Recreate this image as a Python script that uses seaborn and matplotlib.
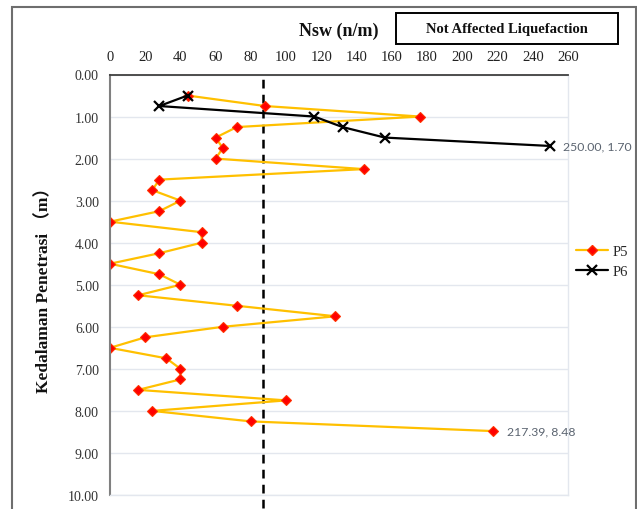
import matplotlib
matplotlib.use("Agg")
import matplotlib.pyplot as plt
from matplotlib.patches import Rectangle
from matplotlib.lines import Line2D
import seaborn as sns
import pandas as pd

# ---- data ----
p5_nsw = [44, 88, 176, 72, 60, 64, 60, 144, 28, 24, 40, 28, 0, 52, 52, 28, 0, 28,
          40, 16, 72, 128, 64, 20, 0, 32, 40, 40, 16, 100, 24, 80, 217.39]
p5_depth = [0.50, 0.75, 1.00, 1.25, 1.50, 1.75, 2.00, 2.25, 2.50, 2.75, 3.00, 3.25,
            3.50, 3.75, 4.00, 4.25, 4.50, 4.75, 5.00, 5.25, 5.50, 5.75, 6.00, 6.25,
            6.50, 6.75, 7.00, 7.25, 7.50, 7.75, 8.00, 8.25, 8.48]
p6_nsw = [44, 28, 116, 132, 156, 250.00]
p6_depth = [0.50, 0.75, 1.00, 1.25, 1.50, 1.70]
threshold_nsw = 86.7
x_ticks = list(range(0, 261, 20))
y_ticks = list(range(0, 11))
series_names = ["P5", "P6"]

sns.set_theme(style="white")
plt.rcParams["font.family"] = ["Liberation Serif", "Noto Sans CJK SC", "DejaVu Sans"]

fig = plt.figure(figsize=(6.37, 5.10), dpi=100)
ax = fig.add_axes([110 / 637, 1 - 496 / 510, (568 - 110) / 637, (496 - 75.5) / 510])

df5 = pd.DataFrame({"Nsw": p5_nsw, "Depth": p5_depth})
df6 = pd.DataFrame({"Nsw": p6_nsw, "Depth": p6_depth})

sns.lineplot(data=df5, x="Nsw", y="Depth", sort=False, estimator=None, ax=ax,
             color="#FFC000", lw=1.6, marker="D", markersize=5.5,
             markerfacecolor="#FF0000", markeredgecolor="#FF3000", markeredgewidth=0.8)
sns.lineplot(data=df6, x="Nsw", y="Depth", sort=False, estimator=None, ax=ax,
             color="black", lw=1.6, marker="x", markersize=7,
             markeredgecolor="black", markeredgewidth=1.6)

ax.axvline(threshold_nsw, color="black", lw=1.8, ls=(0, (3.5, 2.5)), zorder=1,
           ymin=-0.03, ymax=1, clip_on=False)

ax.set_xlim(0, 260)
ax.set_ylim(10, 0)
ax.set_xticks(x_ticks)
ax.set_yticks(y_ticks)
ax.set_yticklabels([f"{v:.2f}" for v in y_ticks])
ax.xaxis.tick_top()
ax.tick_params(axis="x", length=0, pad=8, labelsize=10.5, labelcolor="#222222")
ax.tick_params(axis="y", length=0, pad=8, labelsize=10, labelcolor="#333333")
ax.set_xlabel("")
ax.set_ylabel("Kedalaman Penetrasi （m）", fontsize=12.5, fontweight="bold",
              labelpad=11, color="#111111")

ax.grid(axis="y", color="#E3E7EE", lw=1.0)
ax.grid(axis="x", visible=False)
for side, col, lw in [("top", "#404040", 1.3), ("left", "#808080", 1.5),
                      ("right", "#E3E7EE", 1.0), ("bottom", "#E3E7EE", 1.0)]:
    ax.spines[side].set_color(col)
    ax.spines[side].set_linewidth(lw)
    ax.spines[side].set_visible(True)

# annotations
ax.annotate(f"{p6_nsw[-1]:.2f}, {p6_depth[-1]:.2f}", (p6_nsw[-1], p6_depth[-1]),
            xytext=(9, 0), textcoords="offset points", va="center", ha="left",
            fontsize=8.8, color="#5B6470", family="Lato", annotation_clip=False)
ax.annotate(f"{p5_nsw[-1]:.2f}, {p5_depth[-1]:.2f}", (p5_nsw[-1], p5_depth[-1]),
            xytext=(10, 0), textcoords="offset points", va="center", ha="left",
            fontsize=8.8, color="#5B6470", family="Lato", annotation_clip=False)

# axis title
fig.text(339 / 637, 1 - 31 / 510, "Nsw (n/m)", ha="center", va="center",
         fontsize=13, fontweight="bold", color="#111111")

# label box
fig.patches.append(Rectangle((396 / 637, 1 - 45 / 510), 222 / 637, 31 / 510,
                             transform=fig.transFigure, fill=False,
                             edgecolor="black", lw=1.4))
fig.text(507 / 637, 1 - 29.5 / 510, "Not Affected Liquefaction", ha="center",
         va="center", fontsize=10.5, fontweight="bold", color="#111111")

# outer frame
fig.patches.append(Rectangle((12 / 637, -0.05), (636 - 12) / 637, 1.05 - 8 / 510,
                             transform=fig.transFigure, fill=False,
                             edgecolor="#6E6E6E", lw=1.5))

# legend
handles = [
    Line2D([], [], color="#FFC000", lw=1.6, marker="D", markersize=5.5,
           markerfacecolor="#FF0000", markeredgecolor="#FF3000"),
    Line2D([], [], color="black", lw=1.6, marker="x", markersize=7,
           markeredgewidth=1.6),
]
fig.legend(handles, series_names, loc="upper left",
           bbox_to_anchor=(570 / 637, 1 - 240 / 510), frameon=False,
           fontsize=10.5, handlelength=2.2, handletextpad=0.3, labelspacing=0.45,
           borderaxespad=0)

fig.savefig("out.png", dpi=100)
